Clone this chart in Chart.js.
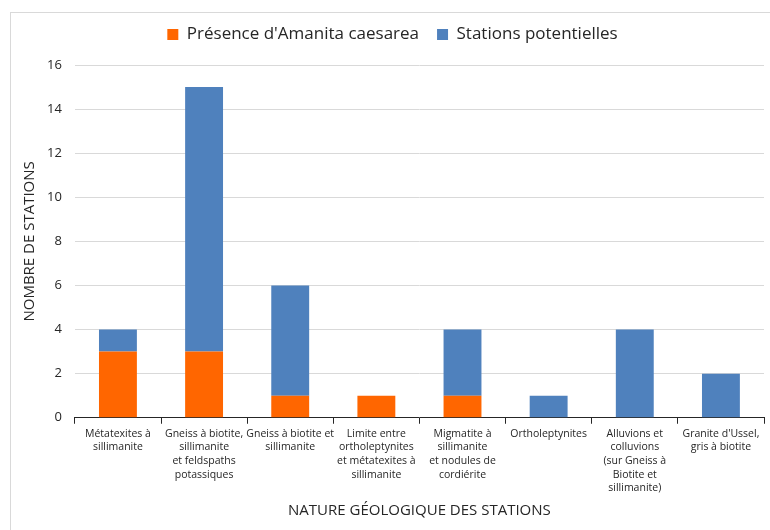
<!DOCTYPE html>
<html>
<head>
<meta charset="utf-8">
<script src="https://cdn.jsdelivr.net/npm/chart.js@4"></script>
<style>
  html, body { margin: 0; padding: 0; background: #fff; }
  #wrap { position: relative; width: 770px; height: 530px; overflow: hidden; }
  #cadre { position: absolute; left: 10px; top: 12px; width: 800px; height: 560px; border: 1px solid #d9d9d9; }
  canvas { position: absolute; left: 0; top: 0; }
</style>
</head>
<body>
<div id="wrap">
  <div id="cadre"></div>
  <canvas id="chartStations" width="770" height="530"></canvas>
</div>
<script>
// Nature géologique des stations (libellés sur plusieurs lignes)
const categories = [
  ["Métatexites à", "sillimanite"],
  ["Gneiss à biotite,", "sillimanite", "et feldspaths", "potassiques"],
  ["Gneiss à biotite et", "sillimanite"],
  ["Limite entre", "ortholeptynites", "et métatexites à", "sillimanite"],
  ["Migmatite à", "sillimanite", "et nodules de", "cordiérite"],
  ["Ortholeptynites"],
  ["Alluvions et", "colluvions", "(sur Gneiss à", "Biotite et", "sillimanite)"],
  ["Granite d'Ussel,", "gris à biotite"]
];

// Nombre de stations par série
const presenceAmanite = [3, 3, 1, 1, 1, 0, 0, 0];
const stationsPotentielles = [1, 12, 5, 0, 3, 1, 4, 2];

const yTicks = [0, 2, 4, 6, 8, 10, 12, 14, 16];

const police = "'Open Sans', 'Noto Sans', sans-serif";

// un peu d'espace entre la légende et le graphique
const espaceLegende = {
  id: "espaceLegende",
  beforeInit(chart) {
    const fitOrig = chart.legend.fit;
    chart.legend.fit = function () {
      fitOrig.call(this);
      this.height += 12;
    };
  }
};

const data = {
  labels: categories,
  datasets: [
    {
      label: "Présence d'Amanita caesarea",
      data: presenceAmanite,
      backgroundColor: "#ff6600",
      borderWidth: 0
    },
    {
      label: "Stations potentielles",
      data: stationsPotentielles,
      backgroundColor: "#4f81bd",
      borderWidth: 0
    }
  ]
};

const config = {
  type: "bar",
  data: data,
  plugins: [espaceLegende],
  options: {
    responsive: false,
    animation: false,
    layout: { padding: { left: 21, right: 6, top: 8, bottom: 10 } },
    datasets: { bar: { categoryPercentage: 0.88, barPercentage: 0.5 } },
    plugins: {
      legend: {
        position: "top",
        labels: {
          boxWidth: 11,
          boxHeight: 11,
          padding: 18,
          color: "#262626",
          font: { family: police, size: 17 }
        }
      },
      tooltip: { enabled: false }
    },
    scales: {
      x: {
        stacked: true,
        border: { display: true, color: "#262626", width: 1 },
        grid: { offset: true, drawOnChartArea: false, drawTicks: true, tickLength: 6, color: "#262626" },
        ticks: {
          autoSkip: false,
          maxRotation: 0,
          color: "#262626",
          padding: 3,
          font: { family: police, size: 10.5, lineHeight: 1.3 }
        },
        title: {
          display: true,
          text: "NATURE GÉOLOGIQUE DES STATIONS",
          color: "#262626",
          padding: { top: 4, bottom: 0 },
          font: { family: police, size: 15 }
        }
      },
      y: {
        stacked: true,
        min: 0,
        max: 16,
        afterBuildTicks: (axis) => { axis.ticks = yTicks.map(v => ({ value: v })); },
        afterFit: (axis) => { axis.width -= 11; },
        border: { display: false },
        grid: { color: "#d9d9d9", drawTicks: false },
        ticks: {
          color: "#262626",
          padding: 13,
          font: { family: police, size: 13 }
        },
        title: {
          display: true,
          text: "NOMBRE DE STATIONS",
          color: "#262626",
          padding: { top: 0, bottom: 6 },
          font: { family: police, size: 15 }
        }
      }
    }
  }
};

const chartStations = new Chart(document.getElementById("chartStations"), config);
</script>
</body>
</html>
